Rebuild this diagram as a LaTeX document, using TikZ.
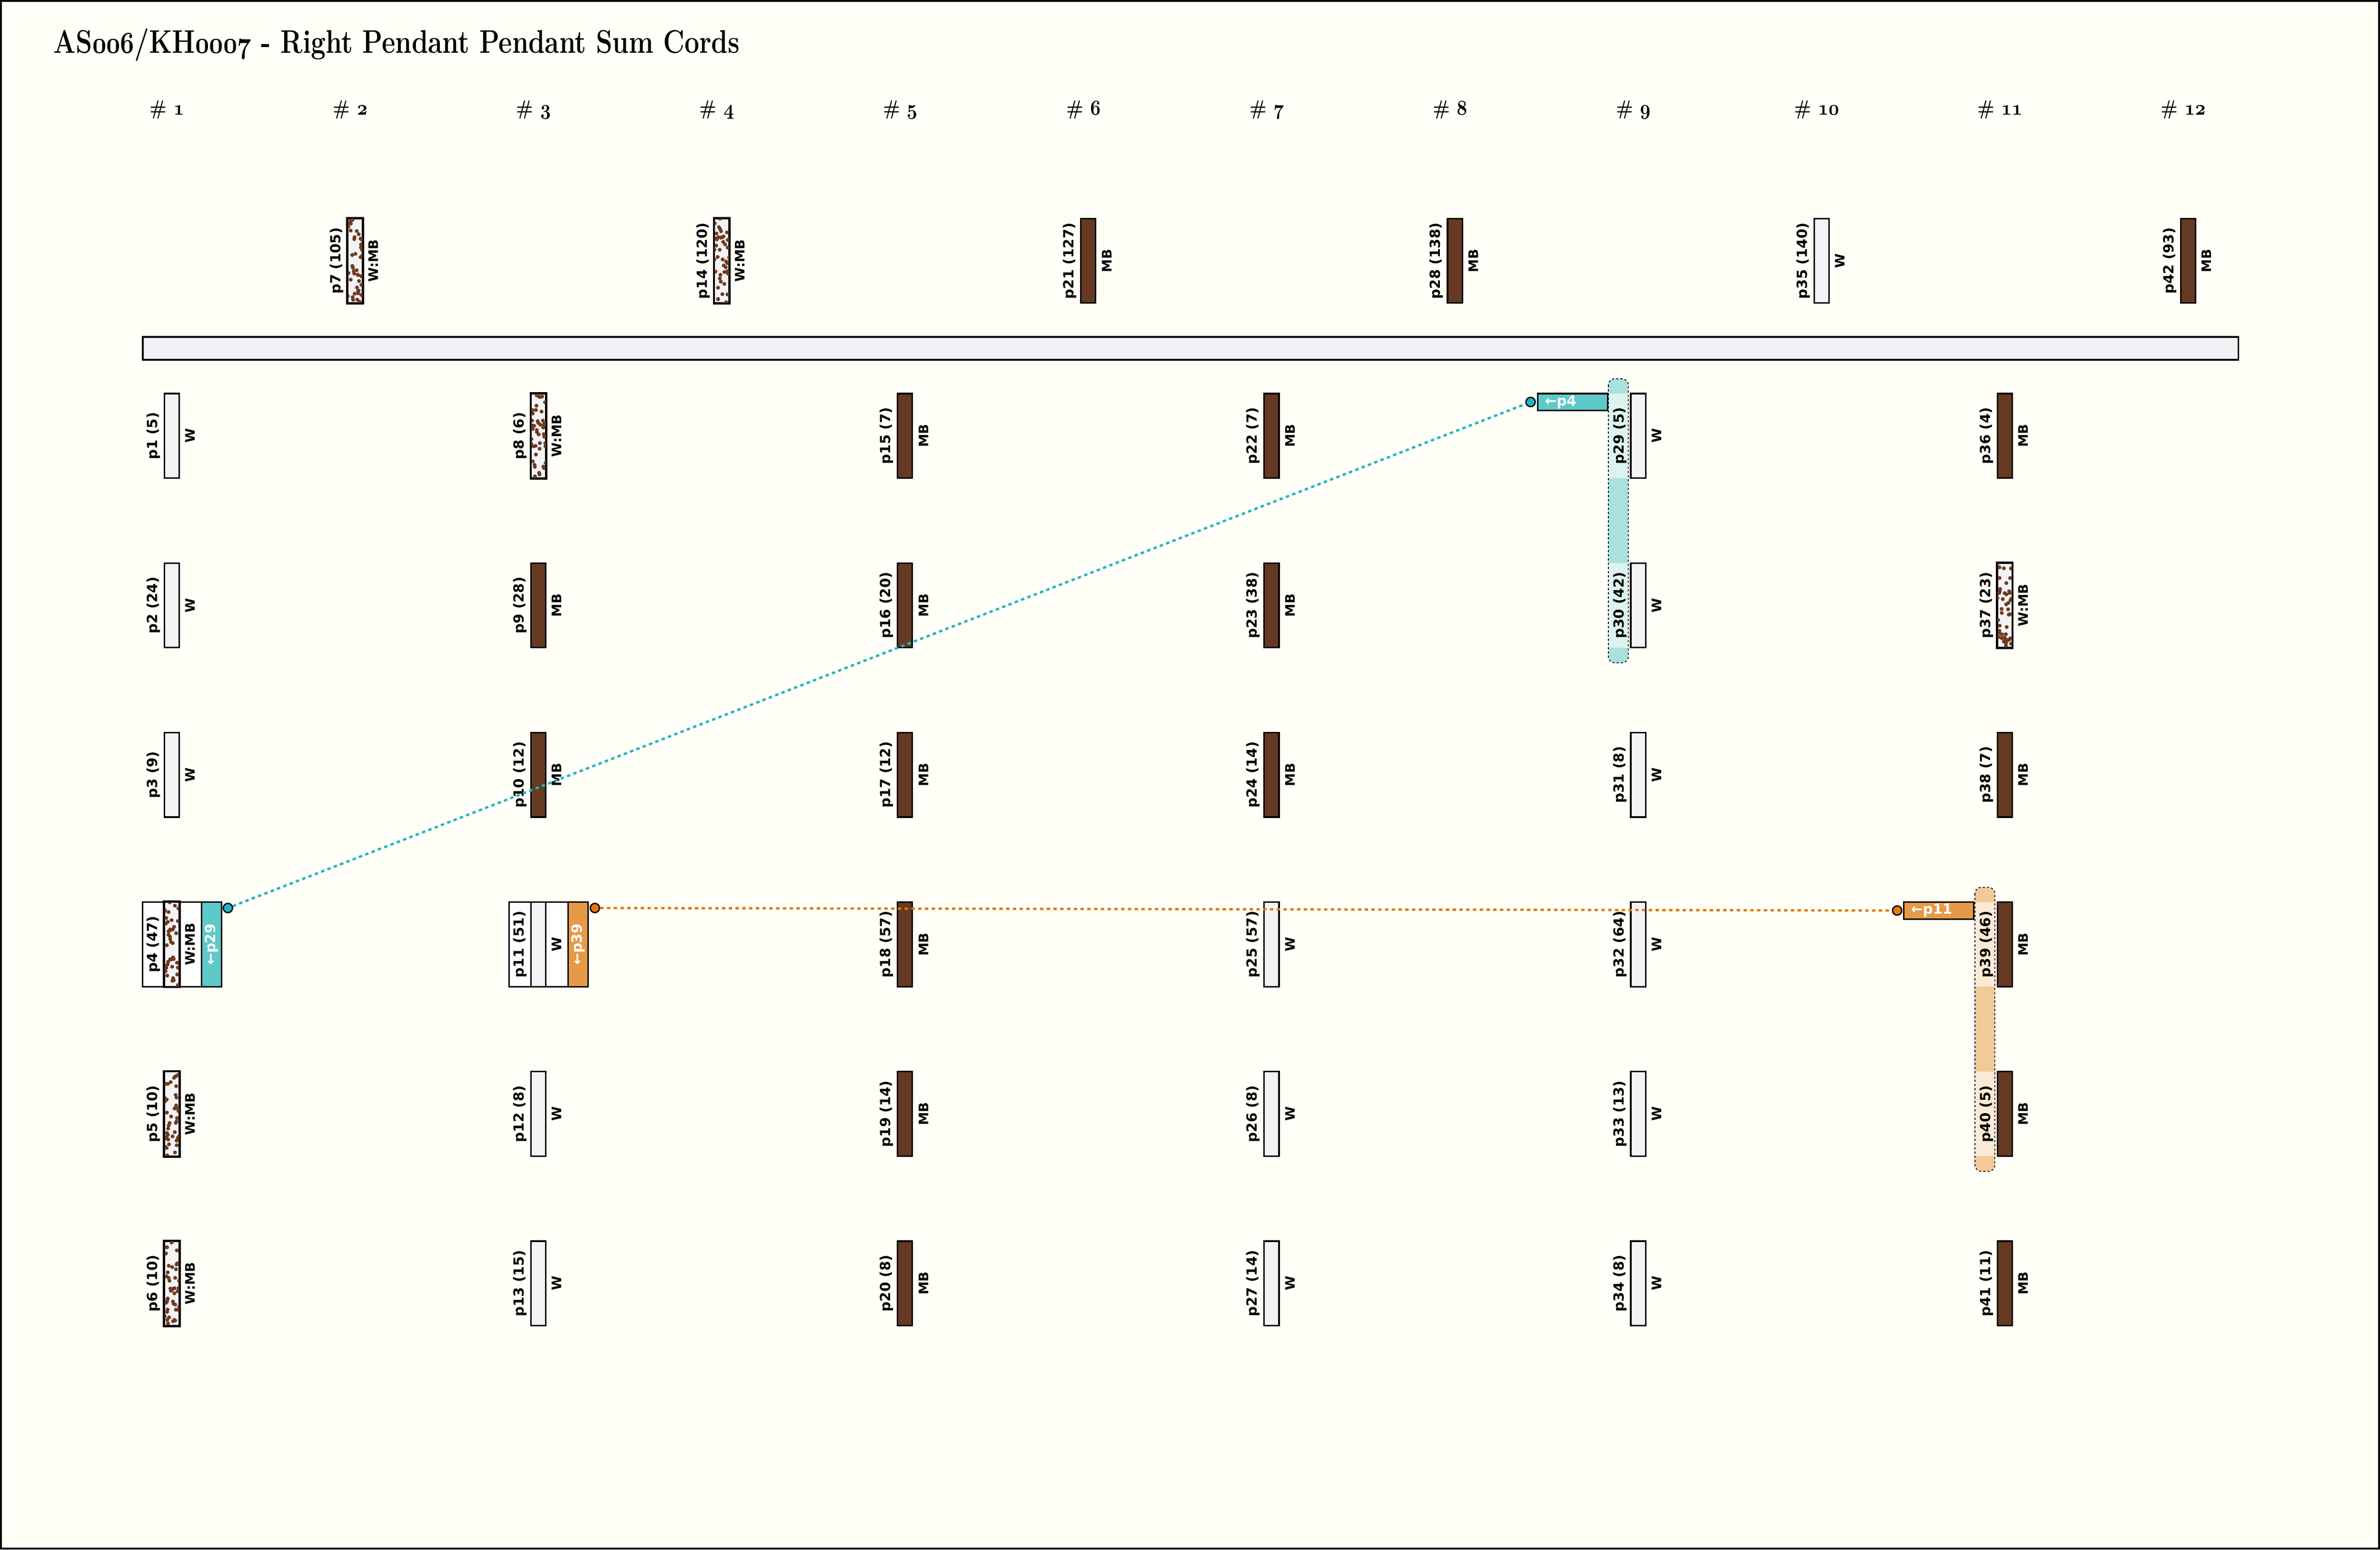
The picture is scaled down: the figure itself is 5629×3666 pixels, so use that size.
\documentclass[tikz,border=0pt]{standalone}
\usepackage{graphicx}
\usepackage{fontspec}
\newfontfamily\labfont{DejaVu Sans}
\newcommand\osfb[1]{{\usefont{OML}{cmm}{b}{it}#1}}
\definecolor{bg}{HTML}{FFFEF7}
\definecolor{mb}{HTML}{663922}
\definecolor{mbdot}{HTML}{6E3B21}
\definecolor{wcol}{HTML}{F3F3F5}
\definecolor{maincol}{HTML}{F1F1F5}
\definecolor{cyanbox}{HTML}{5FC9C9}
\definecolor{cyanline}{HTML}{22B5C0}
\definecolor{cyanband}{HTML}{A9E1DE}
\definecolor{cyanpale}{HTML}{DDF3EF}
\definecolor{orbox}{HTML}{E69A48}
\definecolor{orline}{HTML}{E0780F}
\definecolor{orband}{HTML}{F2C999}
\definecolor{orpale}{HTML}{FAEAD5}
\tikzset{
  x=0.2pt, y=-0.2pt,
  cordrect/.style={draw, line width=0.7pt, rectangle, minimum width=7pt, minimum height=40pt, inner sep=0pt},
  leftlab/.style={rotate=90, inner sep=0pt, font=\labfont\bfseries\fontsize{6.6}{7}\selectfont},
  rightlab/.style={rotate=90, inner sep=0pt, font=\labfont\bfseries\fontsize{6.2}{7}\selectfont},
  linklab/.style={inner sep=0pt, text=white, font=\labfont\bfseries\fontsize{6.6}{7}\selectfont},
  hdr/.style={anchor=base, inner sep=0pt, font=\bfseries\fontsize{9.8}{11}\selectfont},
  grpbox/.style={draw, line width=0.7pt, fill=white},
  strip/.style={draw, line width=0.7pt, rectangle, minimum width=9.4pt, minimum height=40pt, inner sep=0pt},
  hbox/.style={draw, line width=0.7pt, rectangle, minimum width=33pt, minimum height=8pt, inner sep=0pt},
  linkdot/.style={circle, draw, line width=0.6pt, minimum size=4.4pt, inner sep=0pt},
  bandline/.style={draw=black, line width=0.4pt, dash pattern=on 1pt off 1pt, rounded corners=3pt},
  linkline/.style={line width=1.1pt, dash pattern=on 1.6pt off 1.6pt},
  maincord/.style={draw, line width=0.8pt, fill=maincol, rectangle, minimum width=991.2pt, minimum height=10.8pt, inner sep=0pt}
}
% name, cx, top, fill, right label, left label
\newcommand\cordgen[6]{%
  \fill[fill=#4] ({#2-6},#3) rectangle ({#2+29},{#3+200});
  \node[cordrect] (#1) at ({#2+11.5},{#3+100}) {};
  \node[leftlab] (#1-name) at ({#2-32},{#3+100}) {#6};
  \node[rightlab] (#1-col) at ({#2+55},{#3+100}) {#5};
}
\newcommand\mbdots[2]{%
  \begin{scope}
    \clip ({#1-6},#2) rectangle ({#1+29},{#2+200});
    \foreach \k in {1,...,44}{\fill[mbdot] ({#1-6+35*rnd},{#2+200*rnd}) circle[radius=4.6];}
  \end{scope}%
}
\newcommand\cordW[4]{\cordgen{#1}{#2}{#3}{wcol}{W}{#4}}
\newcommand\cordMB[4]{\cordgen{#1}{#2}{#3}{mb}{MB}{#4}}
\newcommand\cordWMB[4]{%
  \cordgen{#1}{#2}{#3}{wcol}{W:MB}{#4}%
  \mbdots{#2}{#3}%
  \draw[line width=0.7pt] (#1.south west) rectangle (#1.north east);
}
\begin{document}
\begin{tikzpicture}
\pgfmathsetseed{4711}
\useasboundingbox (0,0) rectangle (5629,3666);
\fill[bg] (0,0) rectangle (5629,3666);
\draw[line width=1pt] (2.5,2.5) rectangle (5626.5,3663.5);

% title
\node[anchor=base west, inner sep=0pt, font=\bfseries\fontsize{15.5}{18}\selectfont] (title) at (126,125)
  {\scalebox{0.80}[1]{AS\osfb{006}/KH\osfb{0007} - Right Pendant Pendant Sum Cords}};

% column headers
\foreach \k in {1,...,12} {
  \node[hdr] (h\k) at ({395+(\k-1)*433.5},272) {\scalebox{0.86}[1]{\# \osfb{\k}}};
}

% main cord
\node[maincord] (main) at (2816,824) {};

% top cords (above main cord)
\cordWMB{p7}{828.5}{517}{p7 (105)}
\cordWMB{p14}{1695.5}{517}{p14 (120)}
\cordMB{p21}{2562.5}{517}{p21 (127)}
\cordMB{p28}{3429.5}{517}{p28 (138)}
\cordW{p35}{4296.5}{517}{p35 (140)}
\cordMB{p42}{5163.5}{517}{p42 (93)}

% sum bands
\fill[cyanband, rounded corners=3pt] (3804,896) rectangle (3851,1568);
\fill[cyanpale] (3804,931) rectangle (3851,1131);
\fill[cyanpale] (3804,1332) rectangle (3851,1532);
\draw[bandline] (3804,896) rectangle (3851,1568);
\fill[orband, rounded corners=3pt] (4671,2099) rectangle (4718,2771);
\fill[orpale] (4671,2134) rectangle (4718,2334);
\fill[orpale] (4671,2535) rectangle (4718,2735);
\draw[bandline] (4671,2099) rectangle (4718,2771);

% group boxes behind labels
\draw[grpbox] (337,2134) rectangle (389,2334);
\draw[grpbox] (424,2134) rectangle (477,2334);
\draw[grpbox] (1204,2134) rectangle (1256,2334);
\draw[grpbox] (1291,2134) rectangle (1344,2334);

% column 1
\cordW{p1}{395}{931}{p1 (5)}
\cordW{p2}{395}{1332}{p2 (24)}
\cordW{p3}{395}{1733}{p3 (9)}
\cordWMB{p4}{395}{2134}{p4 (47)}
\cordWMB{p5}{395}{2535}{p5 (10)}
\cordWMB{p6}{395}{2936}{p6 (10)}
% column 3
\cordWMB{p8}{1262}{931}{p8 (6)}
\cordMB{p9}{1262}{1332}{p9 (28)}
\cordMB{p10}{1262}{1733}{p10 (12)}
\cordW{p11}{1262}{2134}{p11 (51)}
\cordW{p12}{1262}{2535}{p12 (8)}
\cordW{p13}{1262}{2936}{p13 (15)}
% column 5
\cordMB{p15}{2129}{931}{p15 (7)}
\cordMB{p16}{2129}{1332}{p16 (20)}
\cordMB{p17}{2129}{1733}{p17 (12)}
\cordMB{p18}{2129}{2134}{p18 (57)}
\cordMB{p19}{2129}{2535}{p19 (14)}
\cordMB{p20}{2129}{2936}{p20 (8)}
% column 7
\cordMB{p22}{2996}{931}{p22 (7)}
\cordMB{p23}{2996}{1332}{p23 (38)}
\cordMB{p24}{2996}{1733}{p24 (14)}
\cordW{p25}{2996}{2134}{p25 (57)}
\cordW{p26}{2996}{2535}{p26 (8)}
\cordW{p27}{2996}{2936}{p27 (14)}
% column 9
\cordW{p29}{3863}{931}{p29 (5)}
\cordW{p30}{3863}{1332}{p30 (42)}
\cordW{p31}{3863}{1733}{p31 (8)}
\cordW{p32}{3863}{2134}{p32 (64)}
\cordW{p33}{3863}{2535}{p33 (13)}
\cordW{p34}{3863}{2936}{p34 (8)}
% column 11
\cordMB{p36}{4730}{931}{p36 (4)}
\cordWMB{p37}{4730}{1332}{p37 (23)}
\cordMB{p38}{4730}{1733}{p38 (7)}
\cordMB{p39}{4730}{2134}{p39 (46)}
\cordMB{p40}{4730}{2535}{p40 (5)}
\cordMB{p41}{4730}{2936}{p41 (11)}

% link strips in groups
\node[strip, fill=cyanbox] (p4-link) at (500.5,2234) {};
\node[linklab, rotate=90] (p4-linktext) at (p4-link) {←p29};
\node[strip, fill=orbox] (p11-link) at (1367,2234) {};
\node[linklab, rotate=90] (p11-linktext) at (p11-link) {←p39};

% link boxes at the sum cords
\node[hbox, fill=cyanbox] (p29-link) at (3719.5,951) {};
\node[linklab, anchor=west] (p29-linktext) at (3653,951) {←p4};
\node[hbox, fill=orbox] (p39-link) at (4585.5,2154) {};
\node[linklab, anchor=west] (p39-linktext) at (4519,2154) {←p11};

% connector dots
\node[linkdot, fill=cyanline] (p4-dot) at (539,2148) {};
\node[linkdot, fill=cyanline] (p29-dot) at (3620,951) {};
\node[linkdot, fill=orline] (p11-dot) at (1407,2148) {};
\node[linkdot, fill=orline] (p39-dot) at (4487,2154) {};

% connectors
\draw[linkline, cyanline] (p4-dot) -- (p29-dot);
\draw[linkline, orline] (p11-dot) -- (p39-dot);
\end{tikzpicture}
\end{document}
